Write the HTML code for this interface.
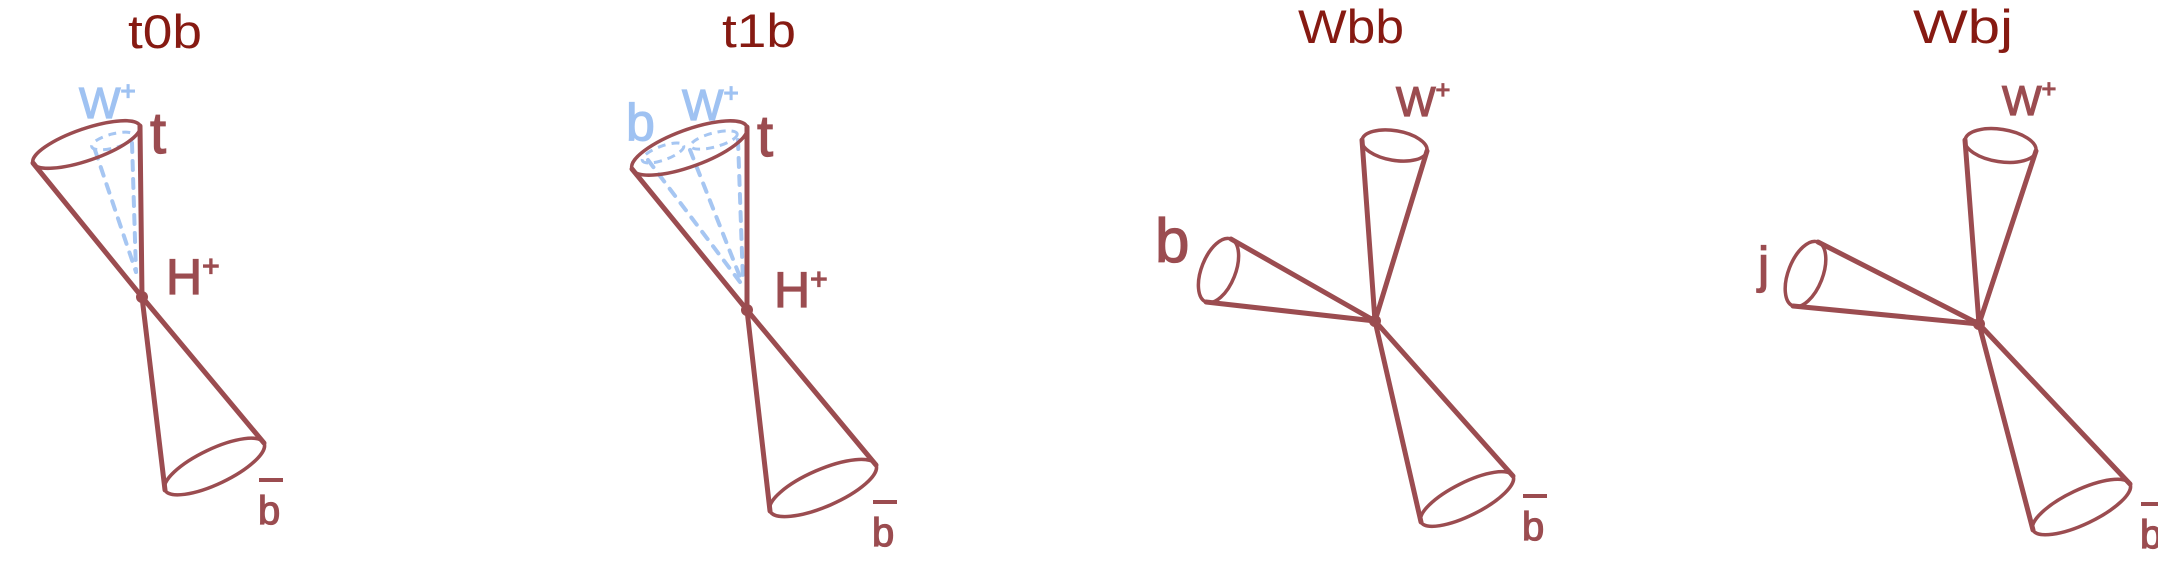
<!DOCTYPE html>
<html><head><meta charset="utf-8">
<style>
html,body{margin:0;padding:0;background:#fff;}
svg{display:block;}
.title{font-family:"Liberation Sans",sans-serif;font-size:47px;fill:#861a12;text-anchor:middle;}
.lab{font-family:"Liberation Sans",sans-serif;fill:#9b4c50;stroke:#9b4c50;stroke-width:1.2;}
.blue{fill:#9fc2f2;stroke:#9fc2f2;}
</style></head>
<body>
<svg id="fig" width="2158" height="568" viewBox="0 0 2158 568" xmlns="http://www.w3.org/2000/svg">
<g id="layer"></g>
</svg>
<script>
// panel titles and positions
const panelTitles = ["t0b", "t1b", "Wbb", "Wbj"];
const titleX = [165, 759, 1351, 1963];
const titleY = [48, 47, 43, 43];
const titleW = [74, 74, 106, 100];
// cones: panel index, apex, base endpoints, minor ratio
const conePanel = [0,0,1,1,2,2,2,3,3,3];
const coneName = ["t-cone","bbar-cone","t-cone","bbar-cone","w-cone","b-cone","bbar-cone","w-cone","j-cone","bbar-cone"];
const apexX = [142,142,747,747,1375,1375,1375,1979,1979,1979];
const apexY = [297,297,310,310,321,321,321,324,324,324];
const p1X = [33,165,632,770,1362,1231,1421,1965,1818,2033];
const p1Y = [163,490,169,511,140,239,522,140,242,530];
const p2X = [140,264,747,876,1427,1206,1513,2036,1793,2130];
const p2Y = [126,443,127,465,151,302,476,151,306,484];
const minorRatio = [0.28,0.32,0.3,0.32,0.45,0.5,0.32,0.45,0.5,0.32];
// labels
const labelText = ["t","H","b","t","H","b","W","b","b","W","j","b"];
const labelX = [150,166,258,757,774,872,1396,1155,1522,2002,1758,2140];
const labelY = [153,294,524,156,307,546,116,262,540,115,282,548];
const labelSize = [58,50,40,58,50,40,42,62,40,42,50,40];
const labelSup = ["","+","","","+","","+","","","+","",""];
const labelBar = [false,false,true,false,false,true,false,false,true,false,false,true];

const NS="http://www.w3.org/2000/svg";
const layer=document.getElementById('layer');
function mk(tag,attrs){const e=document.createElementNS(NS,tag);for(const k in attrs)e.setAttribute(k,attrs[k]);layer.appendChild(e);return e;}
const col="#9b4c50";

panelTitles.forEach((t,i)=>{
  const e=mk('text',{x:titleX[i],y:titleY[i],class:'title',textLength:titleW[i],lengthAdjust:'spacingAndGlyphs'});
  e.textContent=t;
  
  
});

// blue dashed internal structure (t0b & t1b)
function blueDash(x1,y1,x2,y2,name){
  const e=mk('line',{x1:x1,y1:y1,x2:x2,y2:y2,stroke:'#a6c6f2','stroke-width':4,'stroke-dasharray':'9 9','stroke-linecap':'round'});
  
  
}
function blueEll(cx,cy,rx,ry,rot,name){
  const e=mk('ellipse',{cx:cx,cy:cy,rx:rx,ry:ry,transform:`rotate(${rot} ${cx} ${cy})`,fill:'none',stroke:'#a6c6f2','stroke-width':3,'stroke-dasharray':'8 6'});
  
  
}
blueEll(113,141,22,7,-15,'w-subjet-base');
blueDash(95,150,136,272,'w-subjet-edge-left');
blueDash(132,143,136,272,'w-subjet-edge-right');
blueEll(663,153,22,7,-20,'b-subjet-base');
blueEll(714,140,24,7,-15,'w-subjet-base');
blueDash(648,160,740,282,'b-subjet-edge');
blueDash(690,150,742,282,'w-subjet-edge-left');
blueDash(738,140,743,282,'w-subjet-edge-right');

for(let i=0;i<apexX.length;i++){
  const ax=apexX[i],ay=apexY[i],x1=p1X[i],y1=p1Y[i],x2=p2X[i],y2=p2Y[i];
  const g=document.createElementNS(NS,'g');layer.appendChild(g);
  
  
  const l1=document.createElementNS(NS,'line');
  [['x1',ax],['y1',ay],['x2',x1],['y2',y1],['stroke',col],['stroke-width',5],['stroke-linecap','round']].forEach(a=>l1.setAttribute(a[0],a[1]));
  g.appendChild(l1);
  const l2=l1.cloneNode();l2.setAttribute('x2',x2);l2.setAttribute('y2',y2);g.appendChild(l2);
  const cx=(x1+x2)/2,cy=(y1+y2)/2,rx=Math.hypot(x2-x1,y2-y1)/2,ry=rx*minorRatio[i];
  const rot=Math.atan2(y2-y1,x2-x1)*180/Math.PI;
  const el=document.createElementNS(NS,'ellipse');
  [['cx',cx],['cy',cy],['rx',rx],['ry',ry],['transform',`rotate(${rot} ${cx} ${cy})`],['fill','none'],['stroke',col],['stroke-width',3.5]].forEach(a=>el.setAttribute(a[0],a[1]));
  g.appendChild(el);
}
// vertices
[[142,297],[747,310],[1375,321],[1979,324]].forEach((p,i)=>{
  const e=mk('circle',{cx:p[0],cy:p[1],r:6,fill:col});
  
  
});
// labels
for(let i=0;i<labelText.length;i++){
  const e=mk('text',{x:labelX[i],y:labelY[i],class:'lab','font-size':labelSize[i]});
  e.textContent=labelText[i];
  if(labelSup[i]){const s=document.createElementNS(NS,'tspan');s.setAttribute('dy','-18');s.setAttribute('font-size',Math.round(labelSize[i]*0.6));s.textContent=labelSup[i];e.appendChild(s);}
  
  
  if(labelBar[i]){
    const b=mk('line',{x1:labelX[i]+1,y1:labelY[i]-44,x2:labelX[i]+25,y2:labelY[i]-44,stroke:col,'stroke-width':4});
    
    
  }
}
// blue labels
[[79,118,'W','+',44],[682,120,'W','+',44],[626,140,'b','',52]].forEach((l,i)=>{
  const e=mk('text',{x:l[0],y:l[1],class:'lab blue','font-size':l[4]});
  e.textContent=l[2];
  if(l[3]){const s=document.createElementNS(NS,'tspan');s.setAttribute('dy','-18');s.setAttribute('font-size','26');s.textContent=l[3];e.appendChild(s);}
  
  
});
</script>
</body></html>
